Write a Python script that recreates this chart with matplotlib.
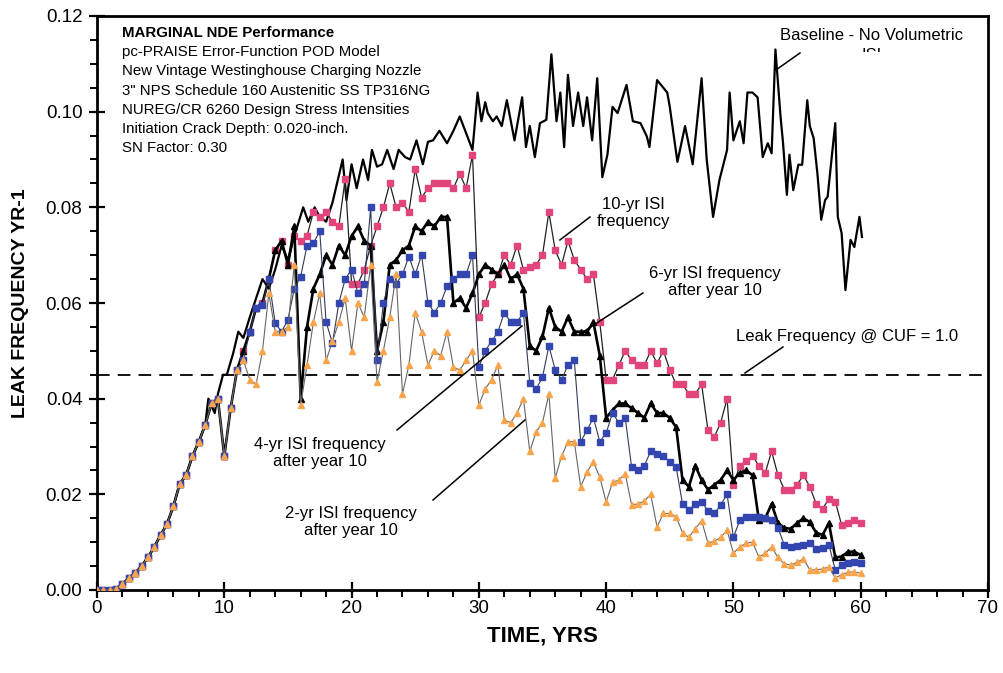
import numpy as np
import matplotlib
matplotlib.use("Agg")
import matplotlib.pyplot as plt
from matplotlib.ticker import MultipleLocator, FormatStrFormatter
from matplotlib.transforms import Bbox

plt.rcParams['font.family'] = ['Liberation Sans', 'DejaVu Sans']

# ---------------- data ----------------
# common early path (0 - 9.5 yr), identical for every series
early = [0.0, 0.0, 0.0, 0.0003, 0.0012, 0.0025, 0.0035, 0.005, 0.0068, 0.009,
         0.0115, 0.0138, 0.0175, 0.0222, 0.024, 0.028, 0.031, 0.0345, 0.039, 0.040]

isi_years = np.arange(0, 60.5, 0.5)

isi_10yr = early + [
    0.028, 0.038, 0.046, 0.050, 0.054, 0.059, 0.060, 0.065, 0.071, 0.073,
    0.068, 0.074, 0.073, 0.074, 0.079, 0.078, 0.079, 0.077, 0.076, 0.086,
    0.064, 0.064, 0.067, 0.072, 0.076, 0.080, 0.085, 0.080, 0.081, 0.079,
    0.088, 0.082, 0.084, 0.085, 0.085, 0.085, 0.084, 0.087, 0.084, 0.091,
    0.057, 0.060, 0.064, 0.066, 0.070, 0.068, 0.072, 0.067, 0.0675, 0.068,
    0.070, 0.079, 0.071, 0.068, 0.073, 0.069, 0.067, 0.065, 0.066, 0.056,
    0.044, 0.044, 0.047, 0.050, 0.048, 0.047, 0.047, 0.050, 0.0474, 0.050,
    0.046, 0.043, 0.043, 0.041, 0.041, 0.043, 0.0334, 0.032, 0.035, 0.040,
    0.022, 0.026, 0.027, 0.028, 0.026, 0.0245, 0.029, 0.024, 0.021, 0.021,
    0.022, 0.024, 0.0216, 0.018, 0.017, 0.019, 0.0185, 0.0136, 0.014, 0.0146,
    0.014]

isi_6yr = early + [
    0.028, 0.038, 0.046, 0.050, 0.054, 0.059, 0.060, 0.065, 0.071, 0.073,
    0.068, 0.076, 0.040, 0.055, 0.063, 0.066, 0.070, 0.068, 0.072, 0.070,
    0.074, 0.076, 0.073, 0.072, 0.050, 0.056, 0.068, 0.069, 0.071, 0.072,
    0.076, 0.075, 0.077, 0.076, 0.078, 0.078, 0.060, 0.061, 0.059, 0.062,
    0.066, 0.068, 0.067, 0.066, 0.068, 0.065, 0.066, 0.063, 0.051, 0.050,
    0.053, 0.059, 0.055, 0.054, 0.057, 0.054, 0.054, 0.054, 0.056, 0.049,
    0.036, 0.0376, 0.039, 0.039, 0.038, 0.037, 0.036, 0.039, 0.037, 0.037,
    0.036, 0.034, 0.023, 0.0216, 0.026, 0.023, 0.021, 0.022, 0.023, 0.025,
    0.023, 0.0245, 0.025, 0.024, 0.0146, 0.015, 0.018, 0.014, 0.013, 0.0128,
    0.014, 0.015, 0.0142, 0.012, 0.0115, 0.014, 0.0068, 0.007, 0.008, 0.008,
    0.0073]

isi_4yr = early + [
    0.028, 0.038, 0.046, 0.048, 0.054, 0.059, 0.0596, 0.065, 0.0558, 0.054,
    0.0565, 0.063, 0.0655, 0.072, 0.0725, 0.075, 0.056, 0.0516, 0.060, 0.065,
    0.067, 0.062, 0.064, 0.080, 0.048, 0.060, 0.065, 0.064, 0.066, 0.0697,
    0.066, 0.070, 0.060, 0.058, 0.060, 0.0635, 0.065, 0.066, 0.066, 0.070,
    0.0466, 0.050, 0.052, 0.054, 0.058, 0.056, 0.056, 0.058, 0.0433, 0.042,
    0.0445, 0.051, 0.046, 0.044, 0.047, 0.048, 0.031, 0.0334, 0.036, 0.031,
    0.0328, 0.037, 0.035, 0.036, 0.0257, 0.025, 0.026, 0.029, 0.0285, 0.028,
    0.0268, 0.0257, 0.018, 0.0167, 0.018, 0.0185, 0.0165, 0.016, 0.0178, 0.020,
    0.011, 0.0146, 0.0153, 0.0153, 0.0152, 0.015, 0.0146, 0.013, 0.0094, 0.009,
    0.0092, 0.0094, 0.0098, 0.0085, 0.0088, 0.0095, 0.0042, 0.0052, 0.0057, 0.0059,
    0.0056]

isi_2yr = early + [
    0.028, 0.038, 0.046, 0.048, 0.044, 0.043, 0.050, 0.062, 0.054, 0.054,
    0.055, 0.068, 0.0387, 0.047, 0.056, 0.062, 0.048, 0.052, 0.056, 0.061,
    0.050, 0.060, 0.057, 0.068, 0.0435, 0.050, 0.057, 0.066, 0.041, 0.047,
    0.058, 0.054, 0.047, 0.050, 0.049, 0.054, 0.0466, 0.046, 0.048, 0.050,
    0.0387, 0.042, 0.044, 0.047, 0.0355, 0.035, 0.037, 0.040, 0.029, 0.033,
    0.035, 0.041, 0.0234, 0.028, 0.031, 0.031, 0.0216, 0.0247, 0.0268, 0.0236,
    0.0184, 0.0225, 0.023, 0.0243, 0.0178, 0.018, 0.0186, 0.020, 0.0132, 0.016,
    0.016, 0.0153, 0.012, 0.011, 0.0128, 0.0145, 0.0098, 0.0102, 0.011, 0.0125,
    0.0077, 0.009, 0.0098, 0.010, 0.0069, 0.0077, 0.009, 0.0068, 0.0055, 0.0052,
    0.0058, 0.0065, 0.0042, 0.0042, 0.0044, 0.0048, 0.0025, 0.0032, 0.0037, 0.0038,
    0.0035]

baseline_years = [
    0, 0.5, 1.0, 1.5, 2.0, 2.5, 3.0, 3.5, 4.0, 4.5, 5.0, 5.5, 6.0, 6.5, 7.0, 7.5,
    8.0, 8.5, 8.75, 9.25, 9.5, 9.9, 10.2, 10.7, 11.1, 11.5, 12.0, 12.5, 13.0,
    13.5, 14.0, 14.5, 15.0, 15.5, 16.2, 16.6, 17.1, 17.5, 18.0, 18.5, 19.3,
    19.6, 20.0, 20.4, 20.9, 21.3, 21.6, 22.0, 22.4, 22.8, 23.3, 23.7, 24.2,
    24.6, 25.1, 25.6, 26.0, 26.4, 26.9, 27.5, 28.0, 28.5, 29.0, 29.5, 29.9,
    30.2, 30.5, 30.7, 31.1, 31.4, 31.8, 32.2, 32.8, 33.4, 33.7, 34.0, 34.4,
    34.8, 35.3, 35.7, 36.1, 36.4, 36.7, 37.0, 37.4, 37.8, 38.2, 38.5, 38.9,
    39.3, 39.7, 40.1, 40.5, 40.9, 41.6, 42.1, 42.7, 43.2, 43.4, 44.0, 44.8,
    45.0, 45.6, 46.2, 46.8, 47.5, 47.9, 48.4, 48.9, 49.5, 49.7, 50.0, 50.5,
    50.8, 51.1, 51.5, 51.9, 52.3, 52.7, 53.0, 53.3, 53.7, 53.9, 54.2, 54.4,
    54.7, 55.1, 55.4, 55.8, 56.0, 56.3, 56.6, 56.9, 57.2, 57.4, 58.0, 58.2,
    58.5, 58.8, 59.2, 59.5, 59.9, 60.1]
baseline_freq = [
    0.0, 0.0, 0.0, 0.0003, 0.0012, 0.0025, 0.0035, 0.005, 0.0068, 0.009, 0.0115,
    0.0138, 0.0175, 0.0222, 0.024, 0.028, 0.031, 0.0345, 0.040, 0.037, 0.041,
    0.045, 0.045, 0.0495, 0.054, 0.0527, 0.057, 0.061, 0.065, 0.063, 0.067,
    0.072, 0.069, 0.074, 0.080, 0.077, 0.080, 0.078, 0.077, 0.081, 0.090,
    0.0815, 0.089, 0.084, 0.090, 0.0857, 0.092, 0.0885, 0.089, 0.092, 0.088,
    0.092, 0.0905, 0.090, 0.094, 0.089, 0.0937, 0.094, 0.096, 0.0934, 0.096,
    0.099, 0.0955, 0.092, 0.104, 0.098, 0.102, 0.0997, 0.098, 0.099, 0.097,
    0.1024, 0.094, 0.103, 0.0926, 0.097, 0.0905, 0.0976, 0.0983, 0.112, 0.098,
    0.104, 0.0926, 0.1077, 0.097, 0.104, 0.097, 0.103, 0.094, 0.107, 0.0863,
    0.091, 0.101, 0.0997, 0.1056, 0.098, 0.0976, 0.0948, 0.0926, 0.1066, 0.104,
    0.101, 0.0895, 0.097, 0.089, 0.107, 0.090, 0.078, 0.0857, 0.092, 0.104,
    0.094, 0.098, 0.0934, 0.104, 0.104, 0.103, 0.0905, 0.0934, 0.0913, 0.113,
    0.099, 0.0934, 0.0826, 0.091, 0.0836, 0.0889, 0.0889, 0.1024, 0.097, 0.0945,
    0.087, 0.0774, 0.0815, 0.0822, 0.0976, 0.078, 0.0746, 0.0627, 0.0732, 0.0717,
    0.078, 0.0738]

cuf_leak_frequency = 0.045

info_lines = ["MARGINAL NDE Performance",
              "pc-PRAISE Error-Function POD Model",
              "New Vintage Westinghouse Charging Nozzle",
              '3" NPS Schedule 160 Austenitic SS TP316NG',
              "NUREG/CR 6260 Design Stress Intensities",
              "Initiation Crack Depth: 0.020-inch.",
              "SN Factor: 0.30"]

# ---------------- figure ----------------
fig = plt.figure(figsize=(10.04, 6.73), dpi=100)
ax = fig.add_axes([97/1004, (673-590)/673, (988-97)/1004, (590-16)/673])

PINK = '#e2457c'
BLUE = '#3346b0'
ORANGE = '#f7a44c'

ax.axhline(cuf_leak_frequency, color='black', lw=1.3, dashes=(7, 4.5), zorder=1)

ax.plot(baseline_years, baseline_freq, color='black', lw=1.6, zorder=2)
ax.plot(isi_years, isi_10yr, color='#222222', lw=0.9, marker='s', ms=4.5,
        mfc=PINK, mec=PINK, zorder=3)
ax.plot(isi_years, isi_6yr, color='black', lw=1.9, marker='^', ms=5,
        mfc='black', mec='black', zorder=4)
ax.plot(isi_years, isi_4yr, color='#333a55', lw=0.8, marker='s', ms=4.5,
        mfc=BLUE, mec=BLUE, zorder=5)
ax.plot(isi_years, isi_2yr, color='#666666', lw=0.8, marker='^', ms=4.7,
        mfc=ORANGE, mec=ORANGE, zorder=6)

ax.set_xlim(0, 70)
ax.set_ylim(0, 0.12)
ax.xaxis.set_major_locator(MultipleLocator(10))
ax.xaxis.set_minor_locator(MultipleLocator(2))
ax.yaxis.set_major_locator(MultipleLocator(0.02))
ax.yaxis.set_minor_locator(MultipleLocator(0.005))
ax.yaxis.set_major_formatter(FormatStrFormatter('%.2f'))
ax.tick_params(which='major', direction='inout', length=11, width=1.6,
               labelsize=13.5)
ax.tick_params(axis='x', which='major', pad=2)
ax.tick_params(axis='y', which='major', pad=5)
ax.tick_params(which='minor', direction='out', length=5, width=1.4)
for s in ax.spines.values():
    s.set_linewidth(2.0)

ax.set_xlabel('TIME, YRS', fontsize=16, fontweight='bold', labelpad=6)
ax.set_ylabel('LEAK FREQUENCY YR-1', fontsize=14, fontweight='bold', labelpad=12)

# info block
for i, line in enumerate(info_lines):
    ax.text(0.028, 0.970 - 0.0333 * i, line, transform=ax.transAxes,
            fontsize=10.8, va='center', ha='left',
            fontweight='bold' if i == 0 else 'normal')

# annotations
lbl = dict(fontsize=12, ha='center', va='center', multialignment='center')
ax.text(42.11, 0.0788, "10-yr ISI\nfrequency", **lbl)
ax.text(48.51, 0.0644, "6-yr ISI frequency\nafter year 10", **lbl)
ax.text(17.52, 0.0286, "4-yr ISI frequency\nafter year 10", **lbl)
ax.text(19.95, 0.0142, "2-yr ISI frequency\nafter year 10", **lbl)
ax.text(58.96, 0.0529, "Leak Frequency @ CUF = 1.0", **lbl)
ax.text(60.88, 0.1160, "Baseline - No Volumetric", **lbl)
isi_txt = ax.text(60.88, 0.11165, "ISI", **lbl)

leaders = [((55.23, 0.11227), (53.34, 0.10872)),
           ((38.73, 0.07798), (36.37, 0.07318)),
           ((42.89, 0.06209), (38.18, 0.05394)),
           ((23.57, 0.03345), (33.39, 0.0552)),
           ((26.40, 0.01882), (33.62, 0.03554)),
           ((53.89, 0.0508), (50.91, 0.04537))]
for (x0, y0), (x1, y1) in leaders:
    ax.plot([x0, x1], [y0, y1], color='black', lw=1.1, zorder=7)

# the second line of the baseline label is cut off in the original
isi_txt.set_clip_box(Bbox.from_extents(0, 673 - 52, 1004, 673))
isi_txt.set_clip_on(True)

fig.savefig('out.png', dpi=100)
